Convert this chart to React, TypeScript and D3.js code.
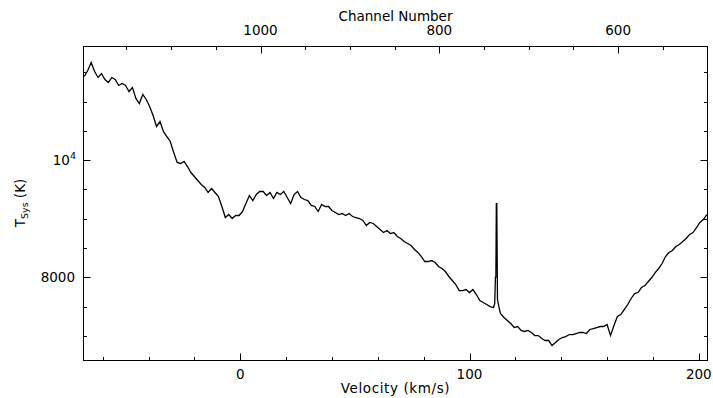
import React from "react";
import * as d3 from "d3";

// Spectrum: velocity (km/s) and system temperature (K)
const velocity = [
  -68, -66.5, -65, -63.5, -62, -60.5, -59, -57.5, -56, -54.5, -53, -51.5, -50, -48.5, -47, -45.5,
  -44, -42.5, -41, -39.5, -38, -36.5, -35, -33.5, -32, -30.5, -29, -27.5, -26, -24.5, -23, -21.5,
  -20, -18.5, -17, -15.5, -14, -12.5, -11, -9.5, -8, -6.5, -5, -3.5, -2, -0.5, 1, 2.5,
  4, 5.5, 7, 8.5, 10, 11.5, 13, 14.5, 16, 17.5, 19, 20.5, 22, 23.5, 25, 26.5,
  28, 29.5, 31, 32.5, 34, 35.5, 37, 38.5, 40, 41.5, 43, 44.5, 46, 47.5, 49, 50.5,
  52, 53.5, 55, 56.5, 58, 59.5, 61, 62.5, 64, 65.5, 67, 68.5, 70, 71.5, 73, 74.5,
  76, 77.5, 79, 80.5, 82, 83.5, 85, 86.5, 88, 89.5, 91, 92.5, 94, 95.5, 97, 98.5,
  100, 101.5, 103, 104.5, 106, 107.5, 109, 110.5, 111.0, 111.3, 111.5, 111.7, 111.9, 112.2, 112.8,
  113.5, 115, 116.5, 118, 119.5, 121, 122.5, 124, 125.5, 127, 128.5, 130, 131.5, 133, 134.5,
  136, 137.5, 139, 140.5, 142, 143.5, 145, 146.5, 148, 149.5, 151, 152.5, 154, 155.5, 157,
  158.5, 160, 161.5, 163, 164.5, 166, 167.5, 169, 170.5, 172, 173.5, 175, 176.5, 178, 179.5,
  181, 182.5, 184, 185.5, 187, 188.5, 190, 191.5, 193, 194.5, 196, 197.5, 199, 200.5, 202, 203.5,
];

const tsys = [
  11428, 11530, 11667, 11513, 11411, 11479, 11377, 11326, 11411, 11377, 11275, 11309, 11275, 11172, 11240, 11053,
  10967, 11121, 11036, 10916, 10763, 10575, 10660, 10490, 10404, 10319, 10131, 9961, 9944, 9978, 9892, 9790,
  9722, 9653, 9585, 9534, 9449, 9517, 9449, 9380, 9210, 9022, 9073, 9005, 9056, 9056, 9124, 9261,
  9397, 9312, 9414, 9466, 9466, 9397, 9449, 9346, 9449, 9414, 9466, 9363, 9261, 9414, 9466, 9363,
  9329, 9312, 9227, 9210, 9124, 9244, 9210, 9210, 9141, 9107, 9073, 9090, 9056, 9090, 9039, 9022,
  9005, 8971, 8885, 8937, 8920, 8869, 8817, 8766, 8800, 8749, 8766, 8698, 8664, 8612, 8578, 8544,
  8476, 8425, 8356, 8271, 8271, 8288, 8254, 8186, 8152, 8100, 8015, 7947, 7878, 7776, 7776, 7793,
  7742, 7793, 7708, 7606, 7571, 7537, 7503, 7486, 7554, 8000, 8000, 9260, 9260, 7620, 7500,
  7384, 7316, 7264, 7213, 7145, 7162, 7094, 7077, 7094, 7060, 7008, 7008, 6957, 6923, 6923,
  6838, 6889, 6940, 6974, 6991, 7025, 7025, 7042, 7060, 7060, 7042, 7111, 7128, 7145, 7162,
  7162, 7196, 7008, 7179, 7333, 7367, 7452, 7537, 7640, 7725, 7742, 7827, 7861, 7930, 7998,
  8083, 8152, 8237, 8356, 8425, 8459, 8527, 8561, 8612, 8664, 8732, 8766, 8851, 8937, 8988, 9073,
];

const velocityMajorTicks = [0, 100, 200];
const velocityMinorTicks = [-60, -40, -20, 20, 40, 60, 80, 120, 140, 160, 180];
const channelMajorTicks = [1000, 800, 600];
const channelMinorTicks = [1150, 1100, 1050, 950, 900, 850, 750, 700, 650, 550];
const tsysMajorTicks = [8000, 10000];
const tsysMinorTicks = [7000, 7500, 8500, 9000, 9500, 10500, 11000, 11500];

const W = 713;
const H = 398;
const L = 83.5, R = 707.5, T = 46.5, B = 360.5;
const FONT = "'DejaVu Sans', sans-serif";

export default function App() {
  const x = d3.scaleLinear().domain([-68.35, 203.8]).range([L, R]);
  const xc = d3.scaleLinear().domain([1198, 500]).range([L, R]);
  const y = d3.scaleLinear().domain([6582, 11940]).range([B, T]);

  const pts = velocity.map((v, i) => [v, tsys[i]] as [number, number]);
  const line = d3
    .line<[number, number]>()
    .x((d) => x(d[0]))
    .y((d) => y(d[1]))
    .curve(d3.curveLinear);

  const major = 7;
  const minor = 3.5;

  return (
    <svg
      width={W}
      height={H}
      style={{ position: "absolute", left: 0, top: 0, background: "#fff" }}
      fontFamily={FONT}
    >
      <rect x={0} y={0} width={W} height={H} fill="#fff" />
      <defs>
        <clipPath id="plotclip">
          <rect x={L} y={T} width={R - L} height={B - T} />
        </clipPath>
      </defs>
      {/* frame */}
      <rect x={L} y={T} width={R - L} height={B - T} fill="none" stroke="#000" strokeWidth={1} />

      {/* bottom velocity ticks */}
      {velocityMajorTicks.map((v) => (
        <line key={"vM" + v} x1={Math.round(x(v)) + 0.5} x2={Math.round(x(v)) + 0.5} y1={B} y2={B - major} stroke="#000" />
      ))}
      {velocityMinorTicks.map((v) => (
        <line key={"vm" + v} x1={Math.round(x(v)) + 0.5} x2={Math.round(x(v)) + 0.5} y1={B} y2={B - minor} stroke="#000" />
      ))}
      {velocityMajorTicks.map((v) => (
        <text key={"vl" + v} x={x(v)} y={379} textAnchor="middle" fontSize={13.5} fill="#000">
          {v}
        </text>
      ))}

      {/* top channel ticks */}
      {channelMajorTicks.map((c) => (
        <line key={"cM" + c} x1={Math.round(xc(c)) + 0.5} x2={Math.round(xc(c)) + 0.5} y1={T} y2={T + major} stroke="#000" />
      ))}
      {channelMinorTicks.map((c) => (
        <line key={"cm" + c} x1={Math.round(xc(c)) + 0.5} x2={Math.round(xc(c)) + 0.5} y1={T} y2={T + minor} stroke="#000" />
      ))}
      {channelMajorTicks.map((c) => (
        <text key={"cl" + c} x={xc(c)} y={35} textAnchor="middle" fontSize={13.5} fill="#000">
          {c}
        </text>
      ))}

      {/* left/right Tsys ticks */}
      {tsysMajorTicks.map((t) => (
        <g key={"tM" + t}>
          <line x1={L} x2={L + major} y1={Math.round(y(t)) + 0.5} y2={Math.round(y(t)) + 0.5} stroke="#000" />
          <line x1={R} x2={R - major} y1={Math.round(y(t)) + 0.5} y2={Math.round(y(t)) + 0.5} stroke="#000" />
        </g>
      ))}
      {tsysMinorTicks.map((t) => (
        <g key={"tm" + t}>
          <line x1={L} x2={L + minor} y1={Math.round(y(t)) + 0.5} y2={Math.round(y(t)) + 0.5} stroke="#000" />
          <line x1={R} x2={R - minor} y1={Math.round(y(t)) + 0.5} y2={Math.round(y(t)) + 0.5} stroke="#000" />
        </g>
      ))}
      {tsysMajorTicks.map((t) =>
        t === 10000 ? (
          <text key={"tl" + t} x={76} y={y(t) + 4.8} textAnchor="end" fontSize={13.5} fill="#000">
            10
            <tspan fontSize={9.5} dy={-5.5}>4</tspan>
          </text>
        ) : (
          <text key={"tl" + t} x={75} y={y(t) + 4.8} textAnchor="end" fontSize={13.5} fill="#000">
            {t}
          </text>
        )
      )}

      {/* spectrum */}
      <path d={line(pts) || ""} fill="none" stroke="#000" strokeWidth={1.3} strokeLinejoin="miter" clipPath="url(#plotclip)" />

      {/* axis titles */}
      <text x={(L + R) / 2} y={20.5} textAnchor="middle" fontSize={13.5} fill="#000">
        Channel Number
      </text>
      <text x={(L + R) / 2} y={392.5} textAnchor="middle" fontSize={13.5} letterSpacing={0.6} fill="#000">
        Velocity (km/s)
      </text>
      <text transform={`translate(25,203) rotate(-90)`} textAnchor="middle" fontSize={13.5} fill="#000">
        T
        <tspan fontSize={9.5} dy={3}>Sys</tspan>
        <tspan dy={-3}> (K)</tspan>
      </text>
    </svg>
  );
}
